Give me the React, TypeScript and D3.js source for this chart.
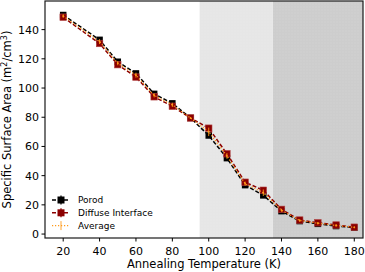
import * as d3 from 'd3'

const temps = [20, 40, 50, 60, 70, 80, 90, 100, 110, 120, 130, 140, 150, 160, 170, 180]
const porod = [150, 133, 118, 110, 96, 89.5, 79.5, 67.5, 52, 33.5, 26.5, 15.7, 8.9, 7, 5.5, 4.4]
const diffuse = [148.5, 130.5, 116, 107.5, 94, 87.5, 79.5, 72.5, 55, 35.5, 30, 16.9, 9.6, 7.7, 6.2, 4.7]
const average = [149.3, 131.8, 117, 108.8, 95, 88.5, 79.5, 70, 53.5, 34.5, 28.3, 16.3, 9.3, 7.4, 5.9, 4.6]
const avgErr = [0.8, 1.3, 1, 1.3, 1, 1, 0.3, 2.5, 1.5, 1, 1.8, 0.6, 0.4, 0.4, 0.4, 0.2]
const xTicks = [20, 40, 60, 80, 100, 120, 140, 160, 180]
const yTicks = [0, 20, 40, 60, 80, 100, 120, 140]
const bands = [
  { from: 95, to: 135, fill: '#e6e6e6' },
  { from: 135, to: 190, fill: '#cdcdcd' },
]
const legendItems = ['Porod', 'Diffuse Interface', 'Average']

const W = 365
const H = 272
const m = { left: 45, right: 363, top: 1, bottom: 238 }
const FONT = "'DejaVu Sans', sans-serif"
const RED = '#8b0000'
const ORANGE = '#ff9a1a'

export default function App() {
  const x = d3.scaleLinear().domain([10, 184.8]).range([m.left, m.right])
  const y = d3.scaleLinear().domain([-2.7, 159.6]).range([m.bottom, m.top])

  const line = (vals: number[]) =>
    d3.line<number>().x((_, i) => x(temps[i])).y((d) => y(d))(vals) || ''

  const sq = 6.5

  return (
    <div style={{ position: 'fixed', left: 0, top: 0 }}>
      <svg width={W} height={H} style={{ display: 'block', background: '#fff' }}>
        <defs>
          <pattern id="dots" width="3" height="3" patternUnits="userSpaceOnUse">
            <circle cx="1" cy="1" r="0.45" fill="#ffffff" opacity="0.35" />
          </pattern>
          <clipPath id="plot">
            <rect x={m.left} y={m.top} width={m.right - m.left} height={m.bottom - m.top} />
          </clipPath>
        </defs>

        {/* shaded temperature regions */}
        <g clipPath="url(#plot)">
          {bands.map((b) => (
            <g key={b.from}>
              <rect x={x(b.from)} y={m.top} width={x(b.to) - x(b.from)} height={m.bottom - m.top} fill={b.fill} />
              <rect x={x(b.from)} y={m.top} width={x(b.to) - x(b.from)} height={m.bottom - m.top} fill="url(#dots)" />
            </g>
          ))}
          <line x1={x(135)} x2={x(135)} y1={m.top} y2={m.bottom} stroke="#f2f2f2" strokeWidth={0.6} />
        </g>

        {/* Porod */}
        <path d={line(porod)} fill="none" stroke="#000" strokeWidth={1.5} strokeDasharray="4,2" />
        {porod.map((v, i) => (
          <rect key={'p' + i} x={x(temps[i]) - sq / 2} y={y(v) - sq / 2} width={sq} height={sq} fill="#000" />
        ))}

        {/* Diffuse interface */}
        <path d={line(diffuse)} fill="none" stroke={RED} strokeWidth={1.5} strokeDasharray="4,2" />
        {diffuse.map((v, i) => (
          <rect key={'d' + i} x={x(temps[i]) - sq / 2} y={y(v) - sq / 2} width={sq} height={sq}
            fill={RED} stroke="#b04040" strokeWidth={0.6} />
        ))}

        {/* Average */}
        <path d={line(average)} fill="none" stroke={ORANGE} strokeWidth={1.2} strokeDasharray="1.2,1.8" />
        {average.map((v, i) => (
          <g key={'a' + i}>
            <line x1={x(temps[i])} x2={x(temps[i])} y1={y(v - avgErr[i] - 0.4)} y2={y(v + avgErr[i] + 0.4)}
              stroke={ORANGE} strokeWidth={0.9} />
            <circle cx={x(temps[i])} cy={y(v)} r={0.9} fill={ORANGE} />
          </g>
        ))}

        {/* frame */}
        <rect x={m.left} y={m.top} width={m.right - m.left} height={m.bottom - m.top}
          fill="none" stroke="#1a1a1a" strokeWidth={1.2} />

        {/* x axis */}
        {xTicks.map((t) => (
          <g key={'xt' + t}>
            <line x1={x(t)} x2={x(t)} y1={m.bottom} y2={m.bottom + 3.5} stroke="#000" strokeWidth={1} />
            <text x={x(t)} y={m.bottom + 16.5} textAnchor="middle" fontSize={11} fontFamily={FONT} fill="#000">{t}</text>
          </g>
        ))}
        <text x={(m.left + m.right) / 2} y={267.5} textAnchor="middle" fontSize={11.5} fontFamily={FONT} fill="#000">
          Annealing Temperature (K)
        </text>

        {/* y axis */}
        {yTicks.map((t) => (
          <g key={'yt' + t}>
            <line x1={m.left - 3.5} x2={m.left} y1={y(t)} y2={y(t)} stroke="#000" strokeWidth={1} />
            <text x={m.left - 6} y={y(t) + 4} textAnchor="end" fontSize={11} fontFamily={FONT} fill="#000">{t}</text>
          </g>
        ))}
        <text transform={`translate(11,${(m.top + m.bottom) / 2}) rotate(-90)`} textAnchor="middle"
          fontSize={11.5} fontFamily={FONT} fill="#000">
          Specific Surface Area (m<tspan dy={-4.5} fontSize={8}>2</tspan><tspan dy={4.5}>/cm</tspan>
          <tspan dy={-4.5} fontSize={8}>3</tspan><tspan dy={4.5}>)</tspan>
        </text>

        {/* legend */}
        {legendItems.map((label, i) => {
          const ly = 200 + i * 12.8
          const cx = 61
          return (
            <g key={label}>
              {i < 2 ? (
                <>
                  <line x1={52} x2={70} y1={ly} y2={ly} stroke={i === 0 ? '#000' : RED} strokeWidth={1.5} strokeDasharray="4,2" />
                  <line x1={cx} x2={cx} y1={ly - 4.5} y2={ly + 4.5} stroke={i === 0 ? '#000' : RED} strokeWidth={1.2} />
                  <rect x={cx - 3.5} y={ly - 3.5} width={7} height={7} fill={i === 0 ? '#000' : RED} />
                </>
              ) : (
                <>
                  <line x1={52} x2={70} y1={ly} y2={ly} stroke={ORANGE} strokeWidth={1.2} strokeDasharray="1.2,1.8" />
                  <line x1={cx} x2={cx} y1={ly - 4.5} y2={ly + 4.5} stroke={ORANGE} strokeWidth={0.9} />
                </>
              )}
              <text x={78} y={ly + 3.2} fontSize={9} fontFamily={FONT} fill="#000">{label}</text>
            </g>
          )
        })}
      </svg>
    </div>
  )
}
